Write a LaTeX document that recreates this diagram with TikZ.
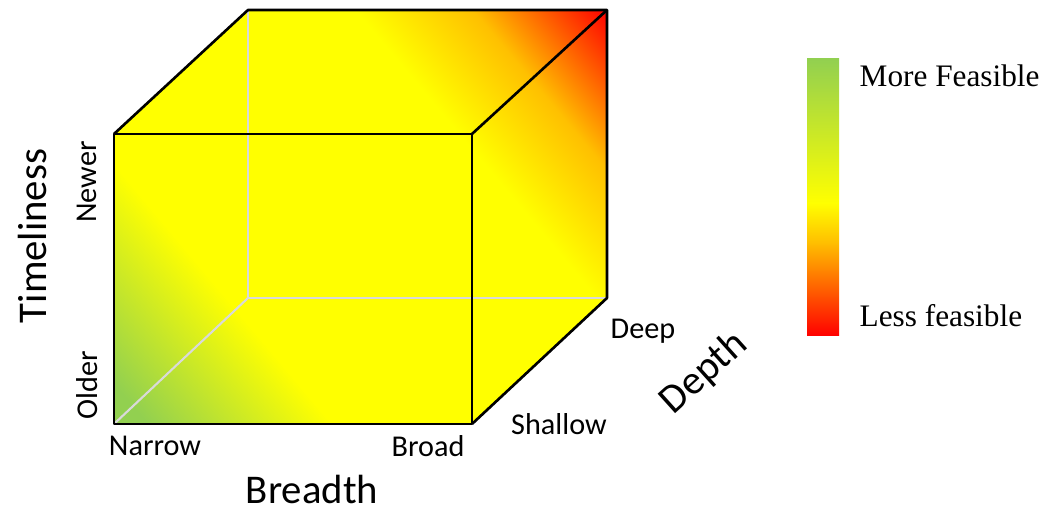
\documentclass[tikz,border=0pt]{standalone}
\usepackage{fontspec}
\setmainfont{Carlito}
\newfontfamily\legendfont{Liberation Serif}
\definecolor{feasgreen}{RGB}{146,208,80}
\definecolor{feasorange}{RGB}{255,192,0}
\definecolor{feasred}{RGB}{255,0,0}
\definecolor{hiddengray}{RGB}{217,217,217}
\pgfdeclareverticalshading{cubeshade}{100bp}{color(0bp)=(feasgreen); color(27bp)=(feasgreen); color(38bp)=(yellow); color(60bp)=(yellow); color(67bp)=(feasorange); color(75bp)=(feasred); color(100bp)=(feasred)}
\pgfdeclareverticalshading{legendshade}{100bp}{color(0bp)=(feasred); color(25bp)=(feasred); color(42bp)=(feasorange); color(49bp)=(yellow); color(75bp)=(feasgreen); color(100bp)=(feasgreen)}
\tikzset{
  cubeedge/.style={line width=0.75pt, line join=round},
  hiddenedge/.style={hiddengray, line width=0.6pt},
  ticklabel/.style={font=\fontsize{8.6}{10}\selectfont, inner sep=0pt},
  axislabel/.style={font=\fontsize{11.6}{13}\selectfont, inner sep=0pt},
  legendlabel/.style={font=\legendfont\fontsize{8.9}{10}\selectfont, inner sep=0pt, anchor=west}
}
\begin{document}
\begin{tikzpicture}
	\useasboundingbox (0,0) rectangle (10.56,5.15);
	% corners of the cube
	\coordinate (fbl) at (1.14,0.91);
	\coordinate (fbr) at (4.72,0.91);
	\coordinate (ftl) at (1.14,3.81);
	\coordinate (ftr) at (4.72,3.81);
	\coordinate (bbl) at (2.48,2.17);
	\coordinate (bbr) at (6.07,2.17);
	\coordinate (btl) at (2.48,5.05);
	\coordinate (btr) at (6.07,5.05);
	\coordinate (mid) at (3.605,2.98);
	\begin{scope}
		\clip (fbl) -- (ftl) -- (btl) -- (btr) -- (bbr) -- (fbr) -- cycle;
		\shade[shading=cubeshade, transform canvas={rotate around={-50:(mid)}}] (-0.4,-0.24) rectangle (7.6,6.2);
	\end{scope}
	% hidden edges
	\draw[hiddenedge] (bbl) -- (fbl);
	\draw[hiddenedge] (bbl) -- (bbr);
	\draw[hiddenedge] (bbl) -- (btl);
	% visible edges
	\draw[cubeedge] (fbl) -- (fbr) -- (ftr) -- (ftl) -- cycle;
	\draw[cubeedge] (ftl) -- (btl) -- (btr) -- (bbr) -- (fbr);
	\draw[cubeedge] (ftr) -- (btr);
	% axis labels
	\node[ticklabel] (narrow) at (1.55,0.69) {Narrow};
	\node[ticklabel] (broad) at (4.28,0.69) {Broad};
	\node[ticklabel] (shallow) at (5.59,0.91) {Shallow};
	\node[ticklabel] (deep) at (6.43,1.84) {Deep};
	\node[ticklabel, rotate=90] (older) at (0.87,1.30) {Older};
	\node[ticklabel, rotate=90] (newer) at (0.87,3.33) {Newer};
	\node[axislabel, rotate=90] (timeliness) at (0.32,2.79) {Timeliness};
	\node[axislabel] (breadth) at (3.12,0.25) {Breadth};
	\node[axislabel, rotate=42] (depth) at (7.04,1.42) {Depth};
	% legend
	\node[shading=legendshade, minimum width=0.32cm, minimum height=2.77cm, inner sep=0pt] (bar) at (8.23,3.175) {};
	\node[legendlabel] (more) at (8.59,4.39) {More Feasible};
	\node[legendlabel] (less) at (8.59,1.99) {Less feasible};
\end{tikzpicture}
\end{document}
